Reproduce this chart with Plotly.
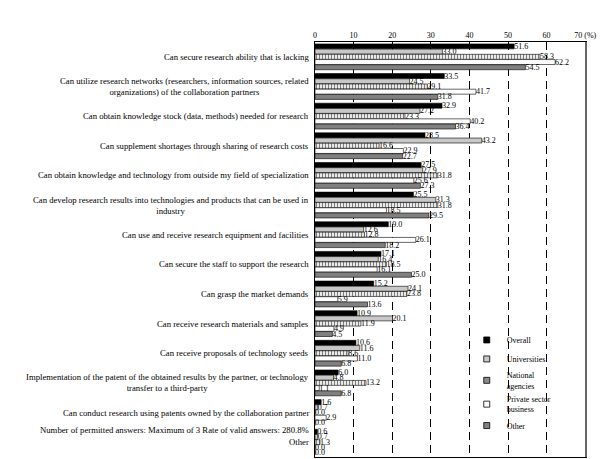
import plotly.graph_objects as go

categories = [
    "Can secure research ability that is lacking",
    "Can utilize research networks (researchers, information sources, related<br>organizations) of the collaboration partners",
    "Can obtain knowledge stock (data, methods) needed for research",
    "Can supplement shortages through sharing of research costs",
    "Can obtain knowledge and technology from outside my field of specialization",
    "Can develop research results into technologies and products that can be used in<br>industry",
    "Can use and receive research equipment and facilities",
    "Can secure the staff to support the research",
    "Can grasp the market demands",
    "Can receive research materials and samples",
    "Can receive proposals of technology seeds",
    "Implementation of the patent of the obtained results by the partner, or technology<br>transfer to a third-party",
    "Can conduct research using patents owned by the collaboration partner",
    "Other",
]
overall = [51.6, 33.5, 32.9, 28.5, 27.5, 25.5, 19.0, 17.1, 15.2, 10.9, 10.6, 6.0, 1.6, 0.6]
universities = [33.0, 24.5, 27.2, 43.2, 27.9, 31.3, 12.6, 16.4, 24.1, 20.1, 11.6, 4.8, 0.7, 0.7]
national = [58.3, 29.1, 23.3, 16.6, 31.8, 31.8, 12.8, 18.5, 23.8, 11.9, 8.6, 13.2, 0.0, 1.3]
private = [62.2, 41.7, 40.2, 22.9, 25.6, 18.5, 26.1, 16.1, 5.9, 4.9, 11.0, 1.1, 2.9, 0.0]
other = [54.5, 31.8, 36.4, 22.7, 27.3, 29.5, 18.2, 25.0, 13.6, 4.5, 6.8, 6.8, 0.0, 0.0]
series_names = ["Overall", "Universities", "National<br>agencies", "Private sector<br>business", "Other"]
note_text = "Number of permitted answers: Maximum of 3 Rate of valid answers: 280.8%"
tick_vals = [0, 10, 20, 30, 40, 50, 60, 70]
tick_text = ["0", "10", "20", "30", "40", "50", "60", "70 (%)"]

FONT = "Liberation Serif"
idx = list(range(len(categories)))

bar_styles = [
    dict(color="black", line=dict(color="black", width=0.6)),
    dict(color="#c8c8c8", line=dict(color="black", width=0.6)),
    dict(color="white", line=dict(color="black", width=0.6),
         pattern=dict(shape="|", fgcolor="black", bgcolor="white", size=3, solidity=0.45)),
    dict(color="white", line=dict(color="black", width=0.6)),
    dict(color="#808080", line=dict(color="black", width=0.6)),
]
legend_colors = ["black", "#c8c8c8", "#8a8a8a", "white", "#808080"]

fig = go.Figure()
for name, vals, st in zip(series_names, [overall, universities, national, private, other], bar_styles):
    fig.add_trace(go.Bar(
        y=idx, x=vals, orientation="h", name=name, marker=st, showlegend=False,
        legendgroup=name,
        text=[f"{v:.1f}" for v in vals], textposition="outside",
        textfont=dict(family=FONT, size=8, color="black"),
        constraintext="none", cliponaxis=False,
    ))
for name, col in zip(series_names, legend_colors):
    fig.add_trace(go.Scatter(
        x=[None], y=[None], mode="markers", name=name, legendgroup=name,
        marker=dict(symbol="square", size=6, color=col, line=dict(color="black", width=0.8)),
    ))

annotations = []
for i, c in enumerate(categories):
    annotations.append(dict(
        x=-0.015, xref="paper", y=i, yref="y", text=c, showarrow=False,
        xanchor="right", yanchor="middle", align="center",
        font=dict(family=FONT, size=8.7, color="black"),
    ))
annotations.append(dict(
    x=-0.015, xref="paper", y=12.6, yref="y", text=note_text, showarrow=False,
    xanchor="right", yanchor="middle", align="right",
    font=dict(family=FONT, size=8.7, color="black"),
))

fig.update_layout(
    width=605, height=459,
    margin=dict(l=315, r=19, t=42, b=2),
    paper_bgcolor="white", plot_bgcolor="white",
    barmode="group", bargap=0.12, bargroupgap=0.05,
    font=dict(family=FONT, size=8, color="black"),
    xaxis=dict(
        side="top", range=[0, 70.2], tickvals=tick_vals, ticktext=tick_text,
        showgrid=True, gridcolor="black", gridwidth=1, griddash="8px,5px",
        showline=True, linecolor="black", linewidth=1, mirror=True,
        ticks="", zeroline=False, tickfont=dict(family=FONT, size=8),
        automargin=False,
    ),
    yaxis=dict(
        autorange="reversed", showticklabels=False, showgrid=False,
        showline=True, linecolor="black", linewidth=1, mirror=True,
        zeroline=False, automargin=False,
    ),
    legend=dict(
        x=0.56, y=0.317, xanchor="left", yanchor="top",
        bgcolor="rgba(0,0,0,0)", font=dict(family=FONT, size=8),
        traceorder="normal", tracegroupgap=0, itemwidth=30,
    ),
    annotations=annotations,
    shapes=[dict(type="line", xref="paper", yref="paper", x0=1, x1=1, y0=0, y1=1,
                 line=dict(color="#666666", width=2))],
)

fig.write_html("out.html", config={"displayModeBar": False},
               post_script="document.body.style.margin='0';")
